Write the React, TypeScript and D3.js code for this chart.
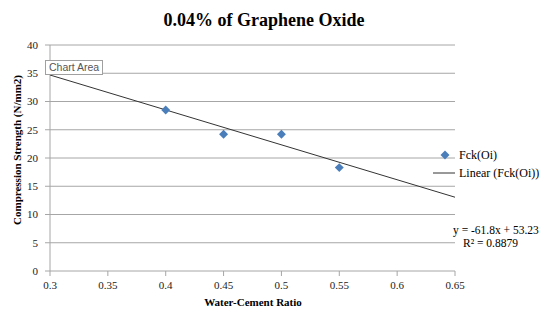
import React from 'react';
import * as d3 from 'd3';

const waterCement = [0.4, 0.45, 0.5, 0.55];
const fck = [28.5, 24.2, 24.2, 18.3];
const trendSlope = -61.8;
const trendIntercept = 53.23;
const xTicks = [0.3, 0.35, 0.4, 0.45, 0.5, 0.55, 0.6, 0.65];
const yTicks = [0, 5, 10, 15, 20, 25, 30, 35, 40];
const seriesName = 'Fck(Oi)';

const W = 542, H = 311;
const serif = "'Liberation Serif', 'DejaVu Serif', serif";

const App = () => {
    const x = d3.scaleLinear().domain([0.3, 0.65]).range([50, 455]);
    const y = d3.scaleLinear().domain([0, 40]).range([271, 45]);
    const trend = d3.line<number>()
        .x(d => x(d))
        .y(d => y(trendSlope * d + trendIntercept));
    // rotated square, like the spreadsheet marker
    const diamond = d3.symbol().type(d3.symbolSquare).size(40)();

    return (
        <svg width={W} height={H} style={{ position: 'absolute', left: 0, top: 0, background: '#fff', fontFamily: serif }}>
            <text x={264} y={26} textAnchor="middle" fontWeight="bold" fontSize={18}>
                0.04% of Graphene Oxide
            </text>

            {yTicks.map(t => (
                <g key={'y' + t}>
                    {t > 0 && <line x1={50} x2={455} y1={y(t)} y2={y(t)} stroke="#a6a6a6" strokeWidth={1} />}
                    <line x1={45} x2={50} y1={y(t)} y2={y(t)} stroke="#a6a6a6" />
                    <text x={38} y={y(t)} dy="0.35em" textAnchor="end" fontSize={11} fill="#222">{t}</text>
                </g>
            ))}
            {xTicks.map(t => (
                <g key={'x' + t}>
                    <line x1={x(t)} x2={x(t)} y1={271} y2={276} stroke="#a6a6a6" />
                    <text x={x(t)} y={289} textAnchor="middle" fontSize={11} fill="#222">{t}</text>
                </g>
            ))}
            <line x1={50} x2={50} y1={45} y2={271} stroke="#a6a6a6" />
            <line x1={50} x2={455} y1={271} y2={271} stroke="#a6a6a6" />

            <path d={trend(x.domain()) || ''} fill="none" stroke="#333" strokeWidth={1} />
            {waterCement.map((w, i) => (
                <path key={i} d={diamond} transform={`translate(${x(w)},${y(fck[i])}) rotate(45)`} fill="#4a7ebb" />
            ))}

            <text transform="translate(21,150) rotate(-90)" textAnchor="middle" fontWeight="bold" fontSize={11}>
                Compression Strength (N/mm2)
            </text>
            <text x={253} y={306} textAnchor="middle" fontWeight="bold" fontSize={11}>
                Water-Cement Ratio
            </text>

            <path d={diamond} transform="translate(445,155) rotate(45)" fill="#4a7ebb" />
            <text x={459} y={155} dy="0.35em" fontSize={12}>{seriesName}</text>
            <line x1={433} x2={455} y1={173} y2={173} stroke="#333" />
            <text x={459} y={173} dy="0.35em" fontSize={12}>{`Linear (${seriesName})`}</text>

            <text x={453} y={234} fontSize={11.5}>{`y = ${trendSlope}x + ${trendIntercept}`}</text>
            <text x={463} y={247} fontSize={11.5}>R² = 0.8879</text>

            <rect x={45.5} y={60.5} width={57} height={14} fill="#fff" stroke="#a0a0a0" />
            <text x={49} y={71} style={{ fontFamily: "'Liberation Sans', Arial, sans-serif" }} fontSize={10.5} fill="#555">Chart Area</text>
        </svg>
    );
};

export default App;
